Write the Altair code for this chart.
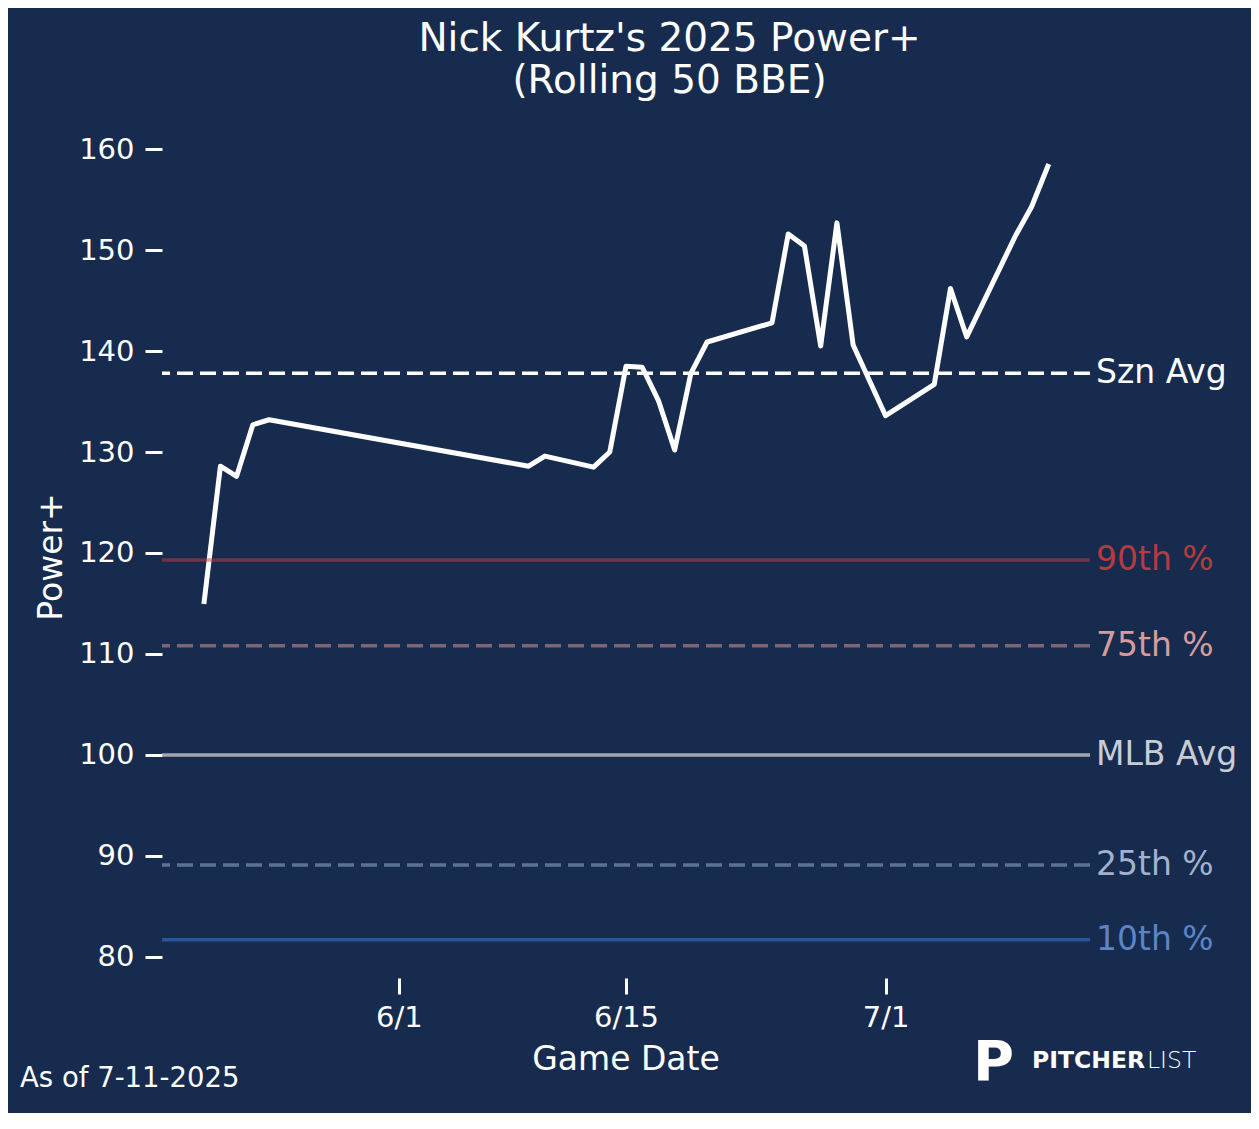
import altair as alt
import pandas as pd

# ---- data ----
dates = ["2025-05-20", "2025-05-21", "2025-05-22", "2025-05-23", "2025-05-24",
         "2025-06-09", "2025-06-10", "2025-06-13", "2025-06-14", "2025-06-15",
         "2025-06-16", "2025-06-17", "2025-06-18", "2025-06-19", "2025-06-20",
         "2025-06-24", "2025-06-25", "2025-06-26", "2025-06-27", "2025-06-28",
         "2025-06-29", "2025-07-01", "2025-07-04", "2025-07-05", "2025-07-06",
         "2025-07-09", "2025-07-10", "2025-07-11"]
power = [115.2, 128.6, 127.6, 132.7, 133.2,
         128.6, 129.6, 128.5, 130.0, 138.5,
         138.4, 135.1, 130.2, 137.8, 140.9,
         142.8, 151.6, 150.4, 140.5, 152.7,
         140.6, 133.6, 136.7, 146.2, 141.4,
         151.4, 154.3, 158.3]

ref_names = ["Szn Avg", "90th %", "75th %", "MLB Avg", "25th %", "10th %"]
ref_values = [137.8, 119.3, 110.8, 100.0, 89.1, 81.7]
ref_line_colors = ["#ffffff", "#c73b3f", "#e5a19d", "#c6c4c6", "#9fbbd9", "#3d7fe3"]
ref_line_opacity = [1.0, 0.5, 0.5, 0.8, 0.5, 0.5]
ref_text_colors = ["#ffffff", "#b53b3e", "#d69c9c", "#c9ccd5", "#a0b2cc", "#5b85c4"]
ref_dashed = [True, False, True, False, True, False]

y_ticks = [80, 90, 100, 110, 120, 130, 140, 150, 160]
x_ticks = [(2025, 6, 1), (2025, 6, 15), (2025, 7, 1)]

title_lines = ["Nick Kurtz's 2025 Power+", "(Rolling 50 BBE)"]
x_title = "Game Date"
y_title = "Power+"
footnote = "As of 7-11-2025"

BG = "#172b4e"
FONT = "DejaVu Sans"

df = pd.DataFrame({"date": pd.to_datetime(dates), "value": power})

x_scale = alt.Scale(domain=[alt.DateTime(year=2025, month=5, date=17, hours=9, minutes=36),
                            alt.DateTime(year=2025, month=7, date=13, hours=14, minutes=24)],
                    nice=False)
y_scale = alt.Scale(domain=[77.9, 162.0], nice=False, zero=False)

x_axis = alt.Axis(values=[alt.DateTime(year=y, month=m, date=d) for (y, m, d) in x_ticks],
                  format="%-m/%-d", title=None, domain=False, grid=False,
                  tickColor="white", tickWidth=3, tickSize=16,
                  labelColor="white", labelFontSize=29, labelFont=FONT, labelPadding=9)
y_axis = alt.Axis(values=y_ticks, title=None, domain=False, grid=False,
                  tickColor="white", tickWidth=3, tickSize=17,
                  labelColor="white", labelFontSize=29, labelFont=FONT, labelPadding=11)

main = alt.Chart(df).mark_line(color="white", strokeWidth=5, strokeJoin="round",
                               strokeCap="square").encode(
    x=alt.X("date:T", scale=x_scale, axis=x_axis),
    y=alt.Y("value:Q", scale=y_scale, axis=y_axis),
)

layers = [main]
for name, val, lc, op, dashed in zip(ref_names, ref_values, ref_line_colors,
                                     ref_line_opacity, ref_dashed):
    kw = dict(color=lc, strokeWidth=3.5, opacity=op)
    if dashed:
        kw["strokeDash"] = [16, 7]
    layers.append(
        alt.Chart(pd.DataFrame({"value": [val]})).mark_rule(**kw).encode(
            y=alt.Y("value:Q", scale=y_scale, axis=y_axis)
        )
    )

labels_df = pd.DataFrame({"name": ref_names, "value": ref_values, "tc": ref_text_colors})
layers.append(
    alt.Chart(labels_df).mark_text(align="left", baseline="middle", fontSize=33,
                                   font=FONT).encode(
        x=alt.value(934),
        y=alt.Y("value:Q", scale=y_scale, axis=y_axis),
        text="name:N",
        color=alt.Color("tc:N", scale=None),
    )
)

one = pd.DataFrame({"k": [0]})


def note(text, x, y, size, align="center", angle=0, weight="normal", font=FONT, color="white"):
    kw = dict(align=align, baseline="alphabetic", fontSize=size, font=font,
              fontWeight=weight, color=color)
    if angle:
        kw["angle"] = angle
    return alt.Chart(one).mark_text(**kw).encode(
        x=alt.value(x), y=alt.value(y), text=alt.value(text))


layers += [
    note(title_lines[0], 507.5, -78, 39),
    note(title_lines[1], 507.5, -36, 39),
    note(x_title, 464, 941, 33),
    note(y_title, -100, 428, 33, angle=270),
    note(footnote, -142, 958, 27.5, align="left"),
    note("P", 811, 951, 56, align="left", weight="bold"),
    note("PITCHER", 870, 939, 23.5, align="left", weight="bold"),
    note("LIST", 985, 939, 23.5, align="left", weight=200),
]

chart = alt.layer(*layers).properties(
    width=928, height=849, background=BG,
    padding={"left": 154, "top": 121, "right": 161, "bottom": 135},
    autosize=alt.AutoSizeParams(type="none"),
).configure_view(strokeWidth=0)

chart.save("out.html", embed_options={"renderer": "svg", "actions": False})
